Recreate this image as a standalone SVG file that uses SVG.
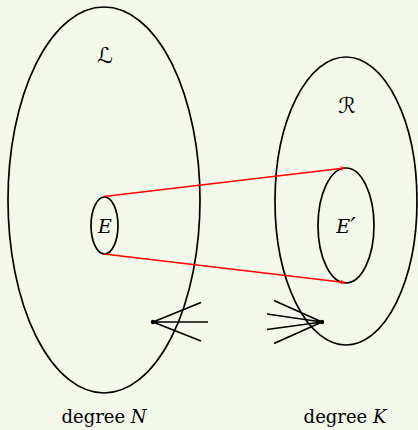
<svg xmlns="http://www.w3.org/2000/svg" width="418" height="430" viewBox="0 0 418 430">
<style>
.set{fill:none;stroke:#000;stroke-width:1.7}
.map{fill:none;stroke:#ff0000;stroke-width:1.7}
.edge{stroke:#000;stroke-width:1.7;fill:none}
.lbl{font-family:'DejaVu Serif',serif;font-size:19px;font-style:italic;fill:#000}
.cal{font-family:'DejaVu Serif','DejaVu Sans',serif;font-size:22px;fill:#000}
.cap{font-family:'DejaVu Serif',serif;font-size:18px;fill:#000}
</style>
<defs>
<marker id="ah" viewBox="0 0 10 10" refX="9" refY="5" markerWidth="5" markerHeight="5" orient="auto" markerUnits="userSpaceOnUse">
<path d="M0,1 Q5,5 10,5 Q5,5 0,9" fill="none" stroke="#ff0000" stroke-width="1.6"/>
</marker>
</defs>
<rect width="418" height="430" fill="#f4f8ea"/>
<g id="L">
<ellipse class="set" cx="104" cy="200" rx="96" ry="193"/>
<text class="cal" x="105" y="63" text-anchor="middle">ℒ</text>
</g>
<g id="R">
<ellipse class="set" cx="346" cy="201" rx="71" ry="144"/>
<text class="cal" x="347" y="113" text-anchor="middle">ℛ</text>
</g>
<g id="E">
<ellipse class="set" cx="104.5" cy="225.5" rx="13.5" ry="28.5"/>
<text class="lbl" x="105" y="233" text-anchor="middle">E</text>
</g>
<g id="Eprime">
<ellipse class="set" cx="346" cy="225.5" rx="28" ry="57.5"/>
<text class="lbl" x="346" y="233" text-anchor="middle">E<tspan font-size="24px" dy="2">′</tspan></text>
</g>
<g id="connectors">
<line class="map" x1="104" y1="196.5" x2="345" y2="168" marker-end="url(#ah)"/>
<line class="map" x1="104" y1="254" x2="345" y2="282.5" marker-end="url(#ah)"/>
</g>
<g id="starN">
<path class="edge" d="M153,322 L201,302.5 M153,322 L208,322 M153,322 L201,341"/>
<circle cx="153" cy="322" r="2.2" fill="#000"/>
</g>
<g id="starK">
<path class="edge" d="M322,322 L274,300.5 M322,322 L267,314 M322,322 L267,329.5 M322,322 L274,343.5"/>
<circle cx="322" cy="322" r="2.2" fill="#000"/>
</g>
<g id="captions">
<text class="cap" x="104" y="423" text-anchor="middle">degree <tspan font-style="italic">N</tspan></text>
<text class="cap" x="345" y="423" text-anchor="middle">degree <tspan font-style="italic">K</tspan></text>
</g>
</svg>
